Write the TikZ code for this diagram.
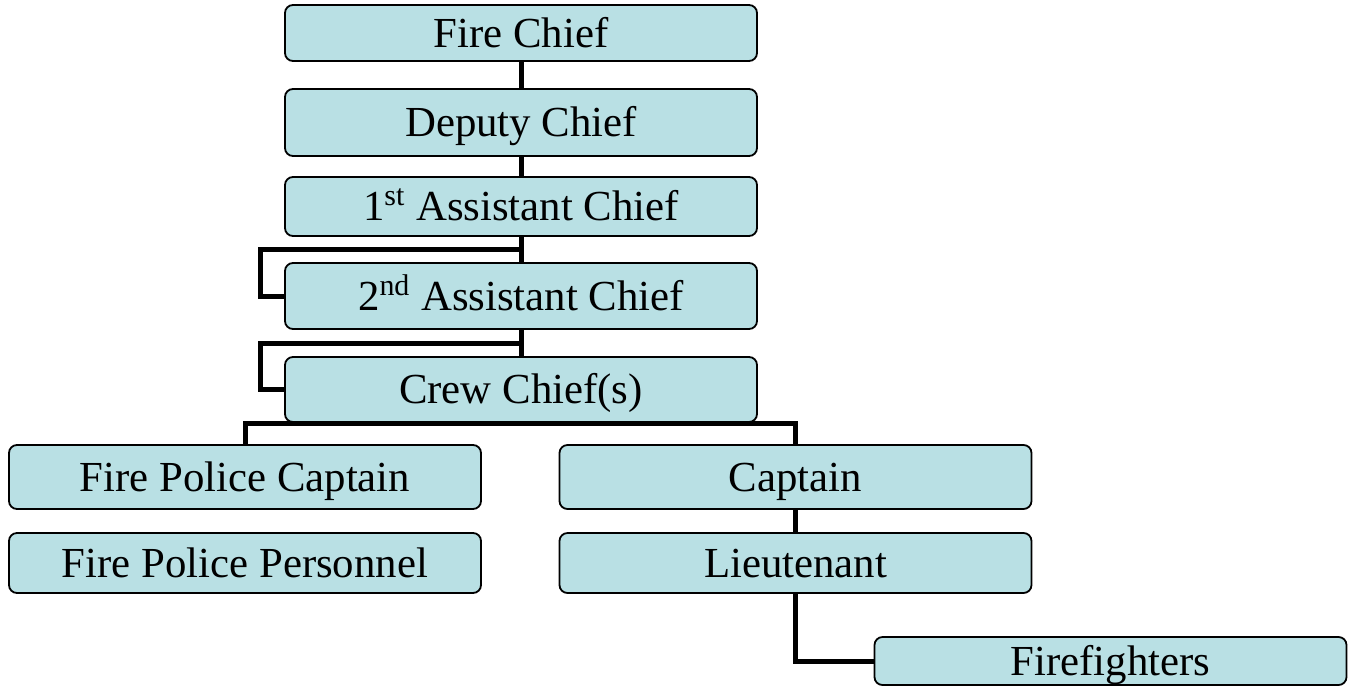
\documentclass[tikz,border=0pt]{standalone}
\usepackage{fontspec}
\setmainfont{Liberation Serif}
\usetikzlibrary{backgrounds}
\definecolor{boxfill}{RGB}{185,224,228}
\tikzset{
  rank/.style={draw=black, fill=boxfill, rounded corners=4pt, line width=0.9pt,
    minimum width=236pt, inner sep=0pt, text height=14.2pt, text depth=0pt,
    font=\fontsize{21.4}{25}\selectfont},
  link/.style={line width=2.5pt, black}
}
\begin{document}
\begin{tikzpicture}[x=0.5pt,y=-0.5pt]
	\useasboundingbox (0,0) rectangle (1353,687);
	
	% Chiefs
	\node[rank, minimum height=28pt] (fire_chief) at (521,33) {Fire Chief};
	\node[rank, minimum height=33.5pt] (deputy) at (521,122.5) {Deputy Chief};
	\node[rank, minimum height=29.5pt] (asst_one) at (521,206.5) {1\textsuperscript{st} Assistant Chief};
	\node[rank, minimum height=33pt] (asst_two) at (521,296) {2\textsuperscript{nd} Assistant Chief};
	\node[rank, minimum height=32.5pt] (crew) at (521,389.5) {Crew Chief(s)};
	
	% Fire police branch
	\node[rank, minimum height=32pt] (fp_captain) at (245,477) {Fire Police Captain};
	\node[rank, minimum height=30pt] (fp_personnel) at (245,563) {Fire Police Personnel};
	
	% Line branch
	\node[rank, minimum height=32pt] (captain) at (795.5,477) {Captain};
	\node[rank, minimum height=30pt] (lieutenant) at (795.5,563) {Lieutenant};
	\node[rank, minimum height=24pt] (firefighters) at (1110.5,661) {Firefighters};
	
	\coordinate (elbow_one) at (521,249);
	\coordinate (elbow_two) at (521,343);
	\coordinate (split) at (521,423);
	
	% Connectors
	\begin{scope}[on background layer]
		\draw[link] (fire_chief) -- (deputy);
		\draw[link] (deputy) -- (asst_one);
		\draw[link] (asst_one) -- (asst_two);
		\draw[link] (asst_two.west) -- ++(-24,0) |- (elbow_one);
		\draw[link] (asst_two) -- (crew);
		\draw[link] (crew.west) -- ++(-24,0) |- (elbow_two);
		\draw[link] (fp_captain.north) |- (split) -| (captain.north);
		\draw[link] (captain) -- (lieutenant);
		\draw[link] (lieutenant.south) |- (firefighters.west);
	\end{scope}
	
\end{tikzpicture}
\end{document}
